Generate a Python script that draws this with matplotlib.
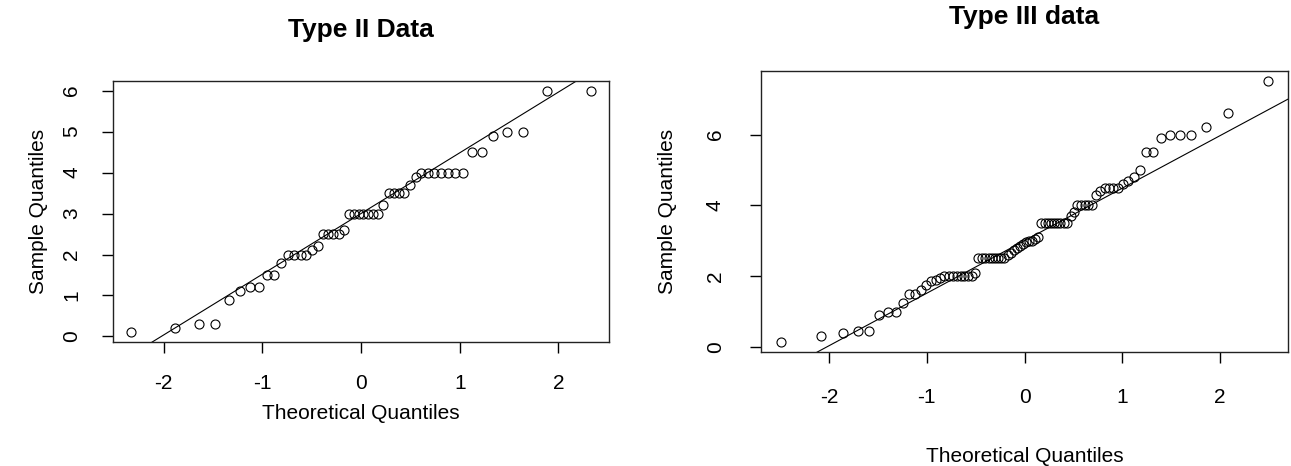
import numpy as np
import matplotlib.pyplot as plt
from statistics import NormalDist

plt.rcParams['font.family'] = ['Liberation Sans', 'DejaVu Sans']
plt.rcParams['axes.unicode_minus'] = False

# sorted sample values
type2 = [0.1, 0.2, 0.3, 0.3, 0.9, 1.1, 1.2, 1.2, 1.5, 1.5,
         1.8, 2.0, 2.0, 2.0, 2.0, 2.1, 2.2, 2.5, 2.5, 2.5,
         2.5, 2.6, 3.0, 3.0, 3.0, 3.0, 3.0, 3.0, 3.0, 3.2,
         3.5, 3.5, 3.5, 3.5, 3.7, 3.9, 4.0, 4.0, 4.0, 4.0,
         4.0, 4.0, 4.0, 4.5, 4.5, 4.9, 5.0, 5.0, 6.0, 6.0]

type3 = [0.15, 0.3, 0.4, 0.45, 0.45, 0.9, 1.0, 1.0, 1.25, 1.5,
         1.5, 1.6, 1.75, 1.85, 1.9, 1.95, 2.0, 2.0, 2.0, 2.0,
         2.0, 2.0, 2.0, 2.0, 2.1, 2.5, 2.5, 2.5, 2.5, 2.5,
         2.5, 2.5, 2.5, 2.5, 2.6, 2.65, 2.75, 2.8, 2.85, 2.9,
         2.95, 3.0, 3.0, 3.05, 3.1, 3.5, 3.5, 3.5, 3.5, 3.5,
         3.5, 3.5, 3.5, 3.5, 3.7, 3.8, 4.0, 4.0, 4.0, 4.0,
         4.0, 4.3, 4.4, 4.5, 4.5, 4.5, 4.5, 4.6, 4.7, 4.8,
         5.0, 5.5, 5.5, 5.9, 6.0, 6.0, 6.0, 6.2, 6.6, 7.5]

titles = ['Type II Data', 'Type III data']
yticks = [[0, 1, 2, 3, 4, 5, 6], [0, 2, 4, 6]]
xticks = [-2, -1, 0, 1, 2]

nd = NormalDist()


def theoretical(n):
    # same plotting positions as R's ppoints()
    a = 3 / 8 if n <= 10 else 0.5
    return np.array([nd.inv_cdf((i - a) / (n + 1 - 2 * a)) for i in range(1, n + 1)])


def qqplot(ax, data, title, yt, title_pad, xlabelpad, ylabelpad, tickpad):
    y = np.sort(np.array(data))
    x = theoretical(len(y))
    ax.plot(x, y, 'o', mfc='none', mec='black', ms=6.5, mew=0.8)

    # qqline through the first and third quartiles
    yq = np.percentile(y, [25, 75])
    xq = np.array([nd.inv_cdf(0.25), nd.inv_cdf(0.75)])
    slope = (yq[1] - yq[0]) / (xq[1] - xq[0])
    inter = yq[0] - slope * xq[0]

    # R style 4% padding
    xr = x.max() - x.min()
    yr = y.max() - y.min()
    ax.set_xlim(x.min() - 0.04 * xr, x.max() + 0.04 * xr)
    ax.set_ylim(y.min() - 0.04 * yr, y.max() + 0.04 * yr)
    xx = np.array([-5, 5])
    ax.plot(xx, inter + slope * xx, color='black', lw=0.8)

    ax.set_xticks(xticks)
    ax.set_yticks(yt)
    ax.tick_params(direction='out', length=8, width=1, labelsize=15, pad=tickpad)
    for lab in ax.get_yticklabels():
        lab.set_rotation(90)
        lab.set_va('center')
    for s in ax.spines.values():
        s.set_linewidth(1)
        s.set_color('#222222')
    ax.set_title(title, fontsize=19, fontweight='bold', pad=title_pad)
    ax.set_xlabel('Theoretical Quantiles', fontsize=15, labelpad=xlabelpad)
    ax.set_ylabel('Sample Quantiles', fontsize=15, labelpad=ylabelpad)


fig = plt.figure(figsize=(12.91, 4.66), dpi=100)
ax1 = fig.add_axes([113 / 1291, (466 - 342) / 466, 496 / 1291, 261 / 466])
ax2 = fig.add_axes([761 / 1291, (466 - 352) / 466, 527 / 1291, 281 / 466])

qqplot(ax1, type2, titles[0], yticks[0], 32, 8, 10, 15)
qqplot(ax2, type3, titles[1], yticks[1], 34, 29, 21, 18)

fig.savefig('out.png', dpi=100)
